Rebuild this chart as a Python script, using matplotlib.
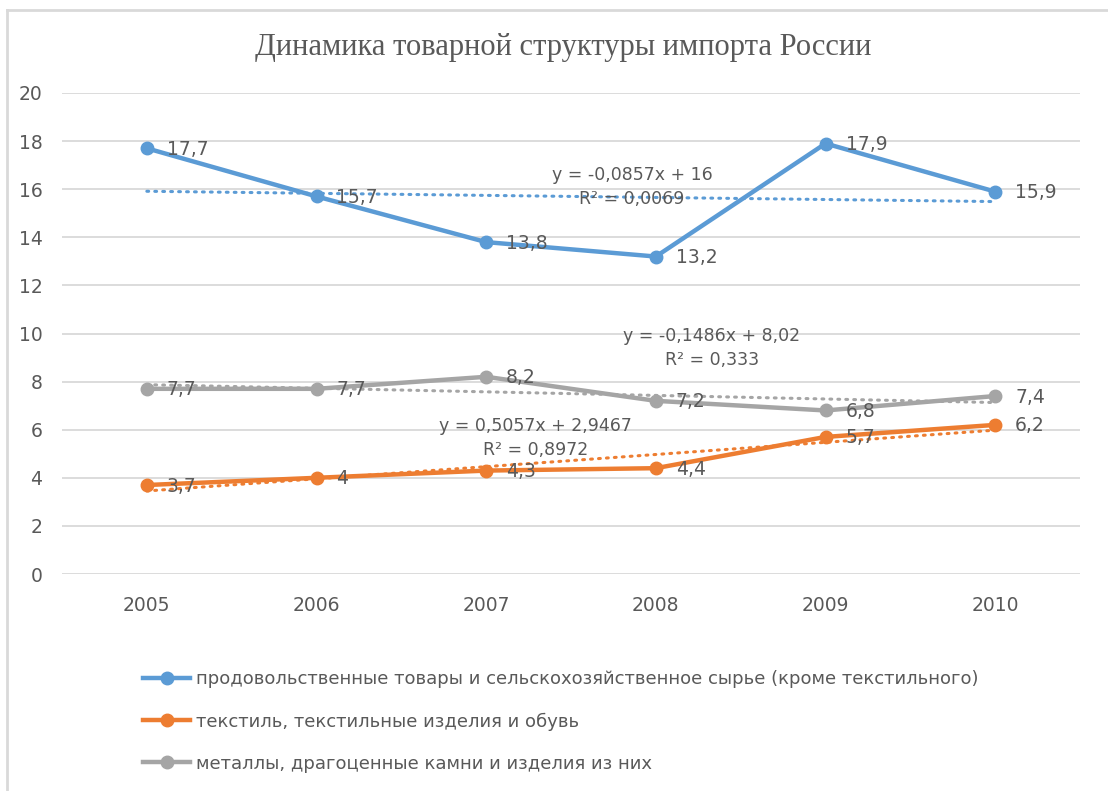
import matplotlib.pyplot as plt
import numpy as np
from matplotlib.lines import Line2D

# data
years = ["2005", "2006", "2007", "2008", "2009", "2010"]
food = [17.7, 15.7, 13.8, 13.2, 17.9, 15.9]
textile = [3.7, 4.0, 4.3, 4.4, 5.7, 6.2]
metals = [7.7, 7.7, 8.2, 7.2, 6.8, 7.4]
names = [
    "продовольственные товары и сельскохозяйственное сырье (кроме текстильного)",
    "текстиль, текстильные изделия и обувь",
    "металлы, драгоценные камни и изделия из них",
]
title = "Динамика товарной структуры импорта России"
yticks = [0, 2, 4, 6, 8, 10, 12, 14, 16, 18, 20]

colors = ["#5B9BD5", "#ED7D31", "#A5A5A5"]
# where the trendline equations sit (category index, y value)
eq_pos = [(2.86, 16.1), (2.29, 5.65), (3.33, 9.4)]

txt = "#595959"
font = ["DejaVu Sans"]


def fmt(v):
    s = f"{v:.4f}".rstrip("0").rstrip(".")
    return s.replace(".", ",")


fig = plt.figure(figsize=(11.08, 7.91), dpi=100)
ax = fig.add_axes([62 / 1108, 1 - 574 / 791, 1018 / 1108, 481 / 791])

x = np.arange(len(years))
series = [food, textile, metals]

for vals, c, pos in zip(series, colors, eq_pos):
    vals = np.array(vals)
    # linear trend in Excel's 1..n convention
    xx = x + 1
    k, b = np.polyfit(xx, vals, 1)
    fit = k * xx + b
    r2 = 1 - np.sum((vals - fit) ** 2) / np.sum((vals - vals.mean()) ** 2)
    ax.plot(x, fit, color=c, lw=2.2, ls=(0, (0.6, 2.0)), dash_capstyle="round", zorder=2)
    sign = "+" if b >= 0 else "-"
    eq = f"y = {fmt(k)}x {sign} {fmt(abs(b))}\nR² = {fmt(r2)}"
    ax.text(pos[0], pos[1], eq, ha="center", va="center", fontsize=12.5,
            color=txt, family=font, linespacing=1.45, zorder=4)

for vals, c in zip(series, colors):
    ax.plot(x, vals, color=c, lw=3.2, marker="o", ms=9, zorder=3)
    for xi, v in zip(x, vals):
        ax.annotate(fmt(v), (xi, v), xytext=(20, -1), textcoords="offset pixels",
                    ha="left", va="center", fontsize=13.5, color=txt, family=font, zorder=4)

ax.set_xlim(-0.5, len(years) - 0.5)
ax.set_ylim(0, 20)
ax.set_yticks(yticks)
ax.set_xticks(x)
ax.set_xticklabels(years)
ax.grid(axis="y", color="#D9D9D9", lw=1.3)
ax.set_axisbelow(True)
for s in ax.spines.values():
    s.set_visible(False)
ax.tick_params(length=0, labelsize=13.5, labelcolor=txt, pad=14)
ax.tick_params(axis="x", pad=16)
for lab in ax.get_xticklabels() + ax.get_yticklabels():
    lab.set_family(font)

fig.text(563 / 1108, 1 - 48 / 791, title, ha="center", va="center",
         fontsize=22, color=txt, family=["Liberation Serif", "DejaVu Serif"])

handles = [Line2D([], [], color=c, lw=3.2, marker="o", ms=9) for c in colors]
fig.legend(handles, names, loc="upper left", bbox_to_anchor=(127 / 1108, 1 - 654 / 791),
           frameon=False, ncol=1, prop={"family": font, "size": 13}, labelcolor=txt,
           handlelength=2.6, handletextpad=0.3, labelspacing=1.33)

# chart border (top and left only visible)
fig.add_artist(Line2D([7 / 1108, 1], [1 - 10 / 791] * 2, transform=fig.transFigure, color="#D9D9D9", lw=2))
fig.add_artist(Line2D([7 / 1108] * 2, [0, 1 - 10 / 791], transform=fig.transFigure, color="#D9D9D9", lw=2))

fig.savefig("out.png", dpi=100, facecolor="white")
